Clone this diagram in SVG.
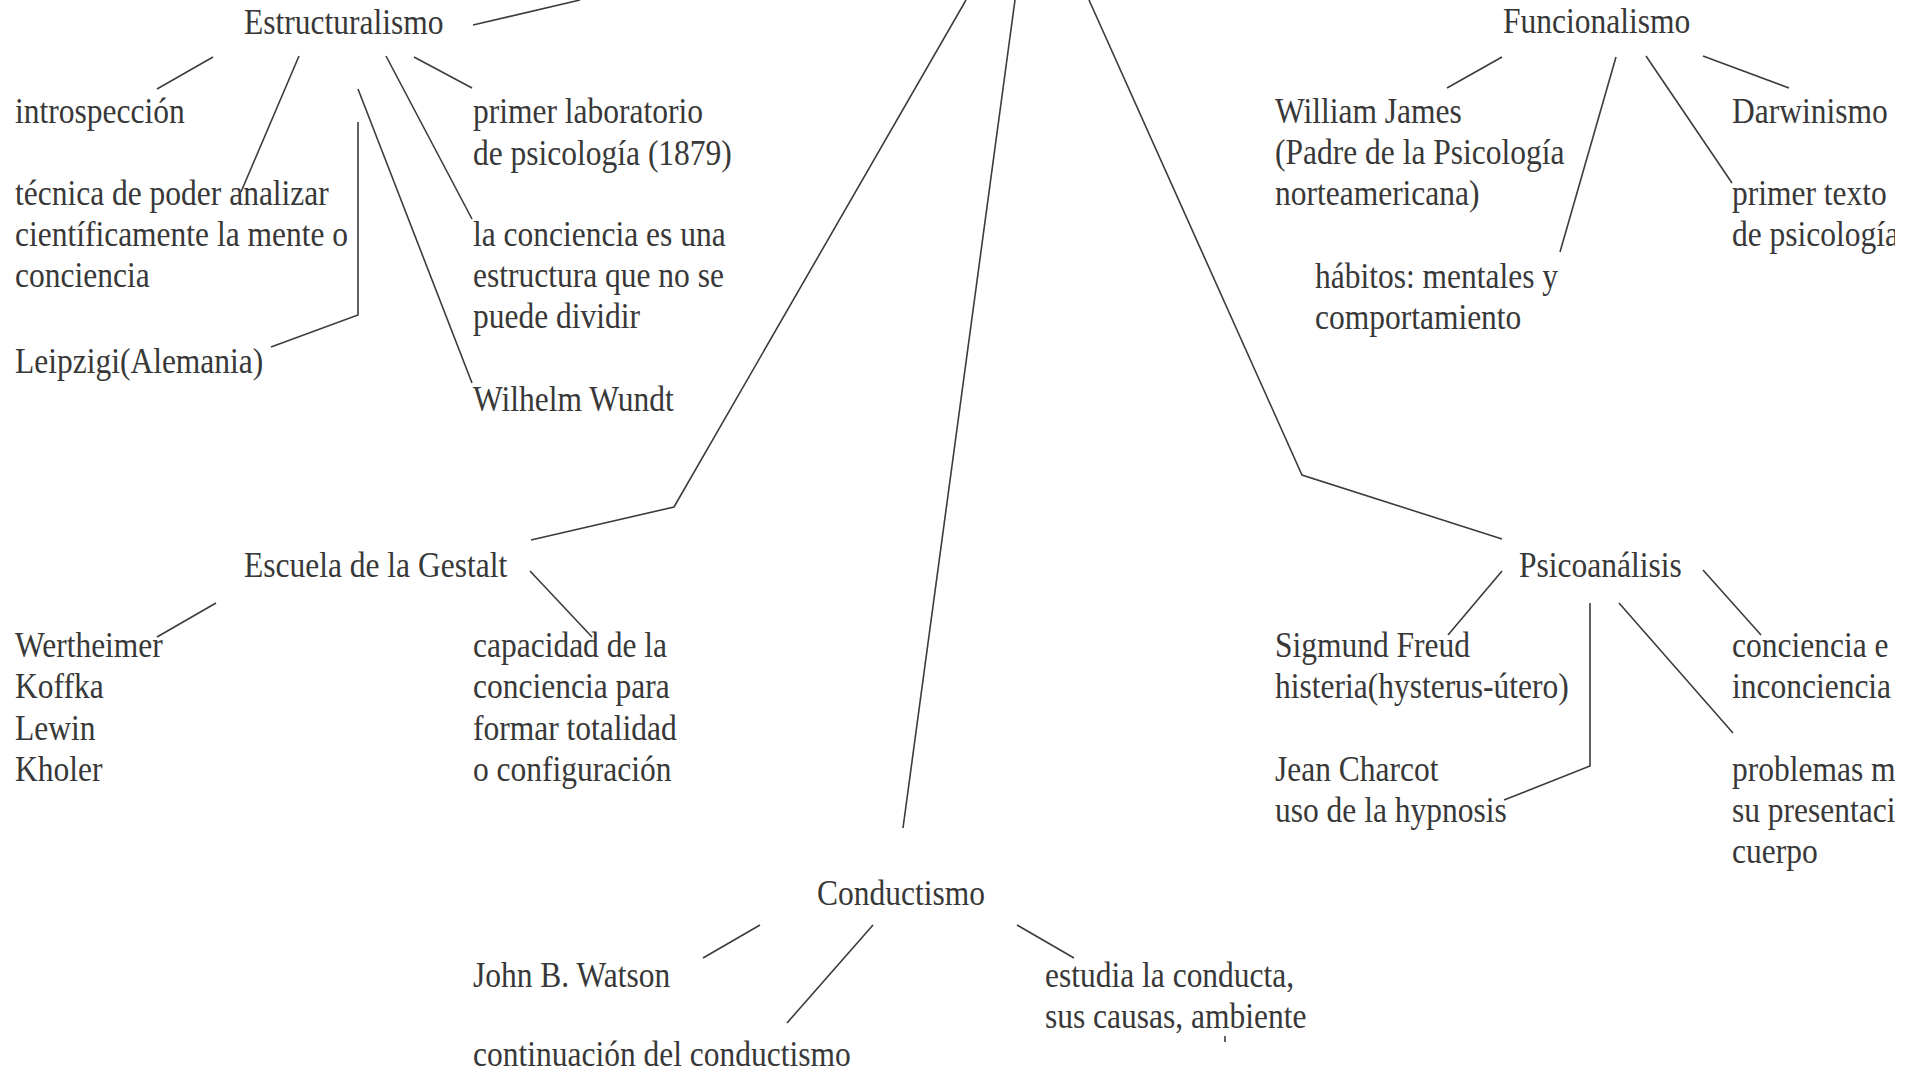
<svg xmlns="http://www.w3.org/2000/svg" width="1921" height="1074" viewBox="0 0 1921 1074">
<style>
.t{font-family:"Liberation Serif","Times New Roman",serif;font-size:36.5px;fill:#383838}
.c{fill:none;stroke:#3c3c3c;stroke-width:1.6;stroke-linejoin:miter}
</style>
<defs>
<clipPath id="clip"><rect x="0" y="0" width="1895" height="1074"/></clipPath>
</defs>
<rect width="1921" height="1074" fill="#fff"/>
<g clip-path="url(#clip)">
<g id="connectors">
<polyline class="c" points="473,25 580,0"/>
<polyline class="c" points="213,57 157,89"/>
<polyline class="c" points="299,56 241,192"/>
<polyline class="c" points="358,122 358,315 271,347"/>
<polyline class="c" points="358,89 472,383"/>
<polyline class="c" points="386,56 472,219"/>
<polyline class="c" points="414,57 472,88"/>
<polyline class="c" points="966,0 674,507 531,540"/>
<polyline class="c" points="1015,0 903,828"/>
<polyline class="c" points="1089,0 1302,475 1502,539"/>
<polyline class="c" points="1502,57 1447,88"/>
<polyline class="c" points="1616,57 1560,252"/>
<polyline class="c" points="1646,56 1732,183"/>
<polyline class="c" points="1703,56 1789,88"/>
<polyline class="c" points="216,603 157,637"/>
<polyline class="c" points="530,571 592,637"/>
<polyline class="c" points="1502,571 1448,635"/>
<polyline class="c" points="1590,603 1590,766 1504,800"/>
<polyline class="c" points="1619,603 1733,733"/>
<polyline class="c" points="1703,570 1761,635"/>
<polyline class="c" points="760,925 703,958"/>
<polyline class="c" points="873,925 787,1023"/>
<polyline class="c" points="1017,925 1074,958"/>
<polyline class="c" points="1225,1036 1225,1042"/>
</g>
<g id="estructuralismo"><text class="t" transform="translate(244,34) scale(.863,1)">Estructuralismo</text></g>
<g id="introspeccion"><text class="t" transform="translate(15,123) scale(.863,1)">introspección</text></g>
<g id="tecnica"><text class="t" transform="translate(15,205) scale(.863,1)">técnica de poder analizar<tspan x="0" dy="41">científicamente la mente o</tspan><tspan x="0" dy="41">conciencia</tspan></text></g>
<g id="leipzig"><text class="t" transform="translate(15,373) scale(.863,1)">Leipzigi(Alemania)</text></g>
<g id="laboratorio"><text class="t" transform="translate(473,123) scale(.863,1)">primer laboratorio<tspan x="0" dy="42">de psicología (1879)</tspan></text></g>
<g id="conciencia-estructura"><text class="t" transform="translate(473,246) scale(.863,1)">la conciencia es una<tspan x="0" dy="41">estructura que no se</tspan><tspan x="0" dy="41">puede dividir</tspan></text></g>
<g id="wundt"><text class="t" transform="translate(473,411) scale(.863,1)">Wilhelm Wundt</text></g>
<g id="funcionalismo"><text class="t" transform="translate(1503,33) scale(.863,1)">Funcionalismo</text></g>
<g id="james"><text class="t" transform="translate(1275,123) scale(.863,1)">William James<tspan x="0" dy="41">(Padre de la Psicología</tspan><tspan x="0" dy="41">norteamericana)</tspan></text></g>
<g id="habitos"><text class="t" transform="translate(1315,288) scale(.863,1)">hábitos: mentales y<tspan x="0" dy="41">comportamiento</tspan></text></g>
<g id="darwinismo"><text class="t" transform="translate(1732,123) scale(.863,1)">Darwinismo</text></g>
<g id="primer-texto"><text class="t" transform="translate(1732,205) scale(.863,1)">primer texto<tspan x="0" dy="41">de psicología</tspan></text></g>
<g id="gestalt"><text class="t" transform="translate(244,577) scale(.863,1)">Escuela de la Gestalt</text></g>
<g id="wertheimer"><text class="t" transform="translate(15,657) scale(.863,1)">Wertheimer<tspan x="0" dy="41.5">Koffka</tspan><tspan x="0" dy="41.5">Lewin</tspan><tspan x="0" dy="41.5">Kholer</tspan></text></g>
<g id="capacidad"><text class="t" transform="translate(473,657) scale(.863,1)">capacidad de la<tspan x="0" dy="41.5">conciencia para</tspan><tspan x="0" dy="41.5">formar totalidad</tspan><tspan x="0" dy="41.5">o configuración</tspan></text></g>
<g id="psicoanalisis"><text class="t" transform="translate(1519,577) scale(.863,1)">Psicoanálisis</text></g>
<g id="freud"><text class="t" transform="translate(1275,657) scale(.863,1)">Sigmund Freud<tspan x="0" dy="41">histeria(hysterus-útero)</tspan></text></g>
<g id="charcot"><text class="t" transform="translate(1275,781) scale(.863,1)">Jean Charcot<tspan x="0" dy="41">uso de la hypnosis</tspan></text></g>
<g id="conciencia-e"><text class="t" transform="translate(1732,657) scale(.863,1)">conciencia e<tspan x="0" dy="41">inconciencia</tspan></text></g>
<g id="problemas"><text class="t" transform="translate(1732,781) scale(.863,1)">problemas m<tspan x="0" dy="41">su presentaci</tspan><tspan x="0" dy="41">cuerpo</tspan></text></g>
<g id="conductismo"><text class="t" transform="translate(817,905) scale(.863,1)">Conductismo</text></g>
<g id="watson"><text class="t" transform="translate(473,987) scale(.863,1)">John B. Watson</text></g>
<g id="estudia"><text class="t" transform="translate(1045,987) scale(.863,1)">estudia la conducta,<tspan x="0" dy="41">sus causas, ambiente</tspan></text></g>
<g id="continuacion"><text class="t" transform="translate(473,1066) scale(.863,1)">continuación del conductismo</text></g>
</g>
</svg>
